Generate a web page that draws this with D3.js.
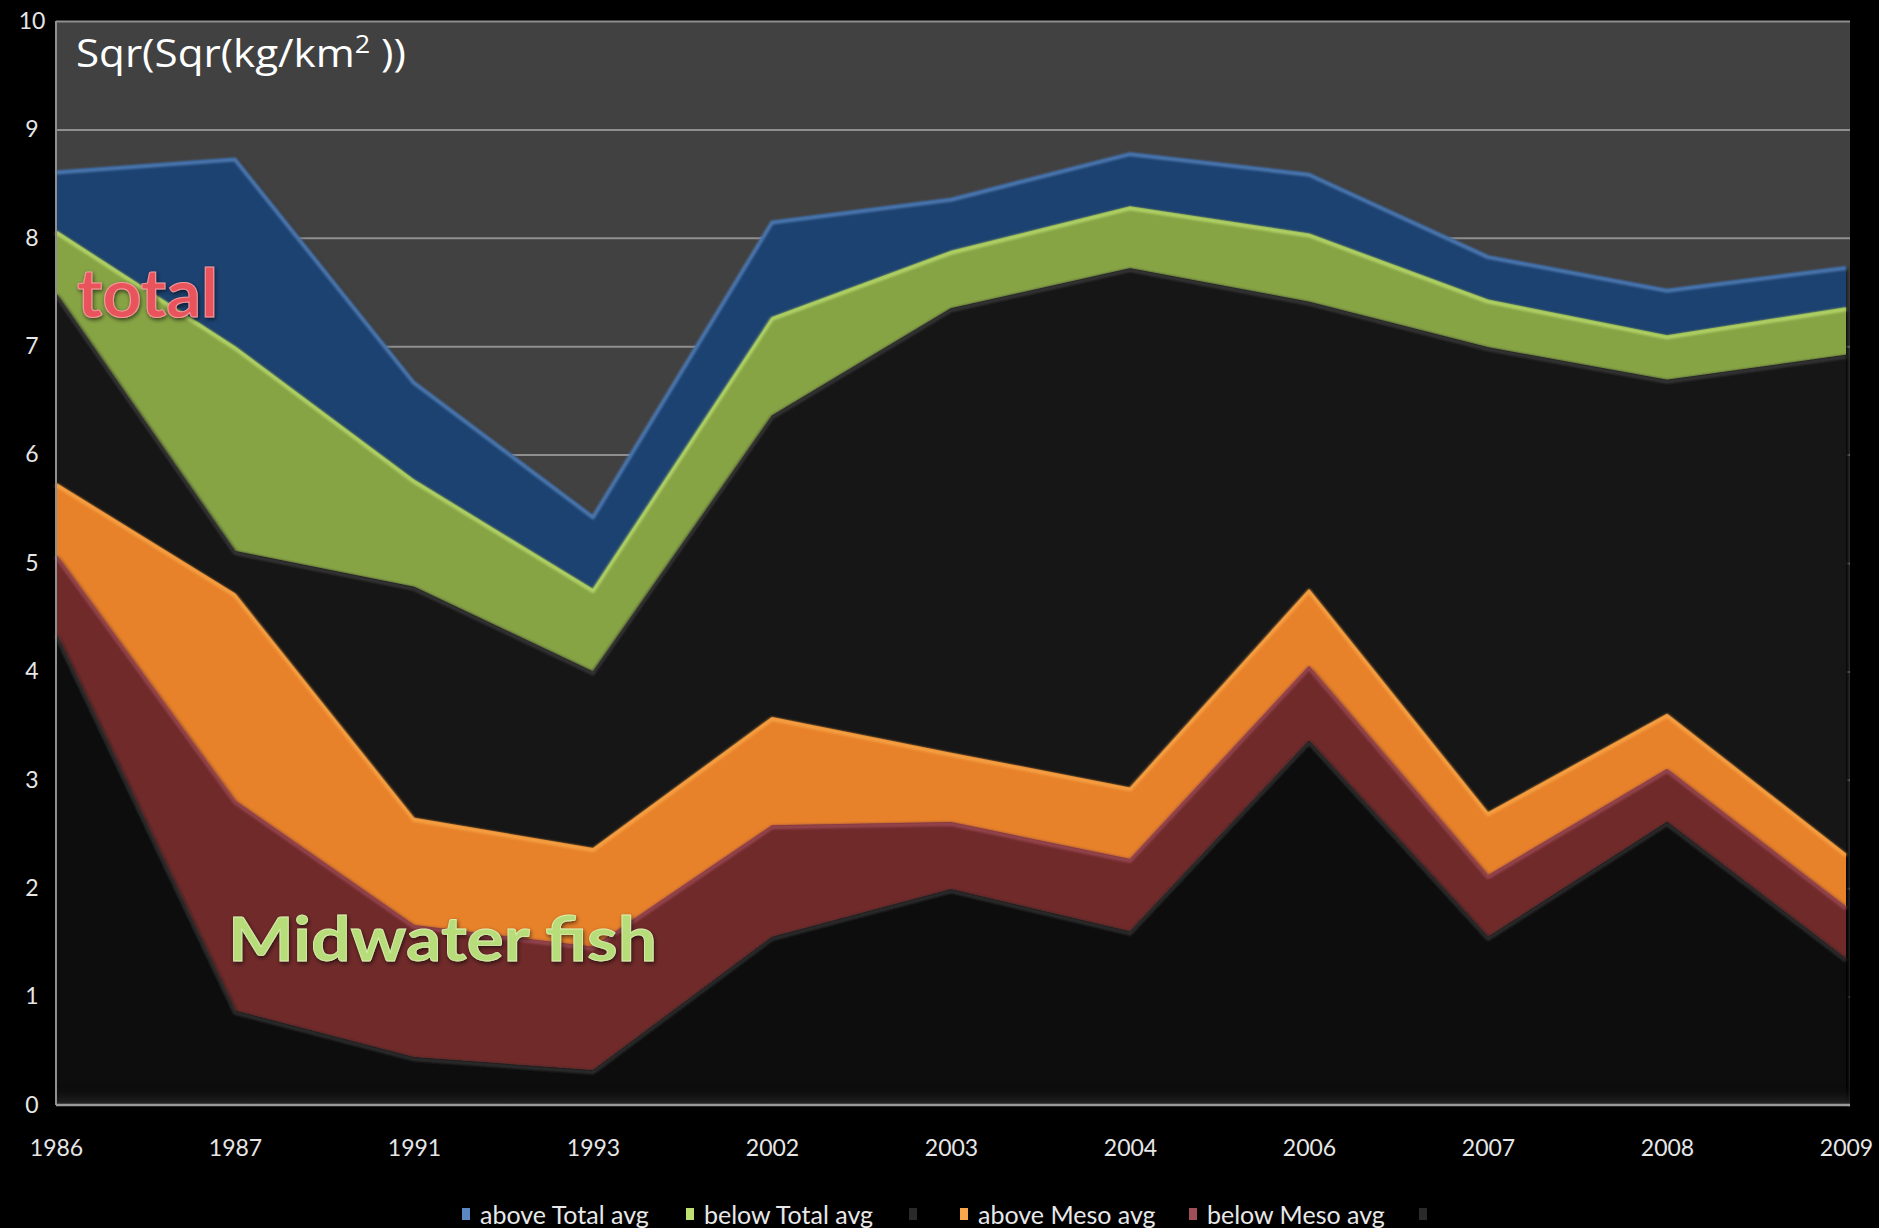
<!DOCTYPE html>
<html lang="en">
  <head>
    <meta charset="utf-8">
    <title>Sqr(Sqr(kg/km2)) - total and midwater fish</title>
    <script src="https://cdnjs.cloudflare.com/ajax/libs/d3/7.8.5/d3.min.js"></script>
    <style>
      html, body {
        margin: 0px;
        padding: 0px;
        background: #000;
      }
      svg {
        display: block;
        font-family: Lato, "Open Sans", sans-serif;
      }
      .tick text {
        fill: #e6e6e6;
        font-family: Lato, "Open Sans", sans-serif;
        font-size: 23px;
      }
      .grid line {
        stroke: #8f8f8f;
        stroke-width: 2;
      }
      .legend text {
        fill: #e8e8e8;
        font-size: 25px;
      }
    </style>
  </head>
  <body>
    <div id="chart"></div>
    <script>
      // years on the x axis (evenly spaced categories)
      var years = ["1986", "1987", "1991", "1993", "2002", "2003", "2004", "2006", "2007", "2008", "2009"];
      var yTicks = [0, 1, 2, 3, 4, 5, 6, 7, 8, 9, 10];

      // each series is drawn as its own area from 0, later ones in front
      var aboveTotalAvg = [8.62, 8.74, 6.68, 5.44, 8.16, 8.37, 8.79, 8.60, 7.84, 7.53, 7.74];
      var belowTotalAvg = [8.07, 7.00, 5.77, 4.76, 7.27, 7.88, 8.29, 8.04, 7.43, 7.10, 7.36];
      var totalBase     = [7.49, 5.11, 4.78, 4.00, 6.36, 7.35, 7.72, 7.41, 6.99, 6.69, 6.92];
      var aboveMesoAvg  = [5.74, 4.72, 2.65, 2.37, 3.58, 3.25, 2.93, 4.76, 2.70, 3.61, 2.32];
      var belowMesoAvg  = [5.08, 2.81, 1.66, 1.46, 2.58, 2.61, 2.27, 4.05, 2.12, 3.10, 1.83];
      var mesoBase      = [4.35, 0.87, 0.44, 0.32, 1.55, 1.99, 1.60, 3.36, 1.55, 2.61, 1.35];

      var seriesNames = ["above Total avg", "below Total avg", "", "above Meso avg", "below Meso avg", ""];
      var seriesValues = [aboveTotalAvg, belowTotalAvg, totalBase, aboveMesoAvg, belowMesoAvg, mesoBase];
      var seriesFill = ["#1f4371", "#87a444", "#121212", "#e8822a", "#702a2b", "#080808"];
      var seriesEdge = ["#5b88c2", "#bde070", "#3c3c3c", "#f8a84a", "#a04e58", "#343434"];

      var W = 1879, H = 1228;
      var plotL = 56, plotR = 1850, plotT = 21, plotB = 1105;

      var svg = d3.select("#chart").append("svg")
        .attr("width", W)
        .attr("height", H);

      var defs = svg.append("defs");
      var shadow = defs.append("filter").attr("id", "shadow")
        .attr("x", "-5%").attr("y", "-5%").attr("width", "110%").attr("height", "115%");
      shadow.append("feDropShadow")
        .attr("dx", 1).attr("dy", 3).attr("stdDeviation", 2.5)
        .attr("flood-color", "#000").attr("flood-opacity", 0.85);

      var soft = defs.append("filter").attr("id", "soft");
      soft.append("feGaussianBlur").attr("stdDeviation", 0.9);

      var glow = defs.append("filter").attr("id", "glow")
        .attr("x", "-10%").attr("y", "-20%").attr("width", "120%").attr("height", "140%");
      glow.append("feDropShadow")
        .attr("dx", 1).attr("dy", 2).attr("stdDeviation", 2)
        .attr("flood-color", "#000").attr("flood-opacity", 0.6);

      var floorGrad = defs.append("linearGradient").attr("id", "floor")
        .attr("x1", 0).attr("y1", 0).attr("x2", 0).attr("y2", 1);
      floorGrad.append("stop").attr("offset", "0%").attr("stop-color", "#000").attr("stop-opacity", 0);
      floorGrad.append("stop").attr("offset", "100%").attr("stop-color", "#2a2a2a").attr("stop-opacity", 0.9);

      var x = d3.scalePoint().domain(years).range([plotL, plotR - 4]);
      var y = d3.scaleLinear().domain([0, 10]).range([plotB, plotT]);

      // plot background
      svg.append("rect")
        .attr("x", plotL).attr("y", plotT)
        .attr("width", plotR - plotL).attr("height", plotB - plotT)
        .attr("fill", "#414141");

      // gridlines
      svg.append("g")
        .attr("class", "grid")
        .attr("transform", "translate(" + plotL + ",0)")
        .call(d3.axisLeft(y).tickValues(yTicks).tickSize(-(plotR - plotL)).tickFormat(""))
        .call(function(g) { g.select(".domain").remove(); });

      var area = d3.area()
        .x(function(d, i) { return x(years[i]); })
        .y0(y(0))
        .y1(function(d) { return y(d); });

      var line = d3.line()
        .x(function(d, i) { return x(years[i]); })
        .y(function(d) { return y(d); });

      var layers = svg.append("g").attr("class", "layers");
      seriesValues.forEach(function(vals, k) {
        var g = layers.append("g");
        g.append("path")
          .attr("d", area(vals))
          .attr("fill", seriesFill[k])
          .attr("filter", "url(#shadow)");
        g.append("path")
          .attr("d", line(vals))
          .attr("fill", "none")
          .attr("stroke", seriesEdge[k])
          .attr("stroke-width", 4)
          .attr("stroke-opacity", 0.75)
          .attr("stroke-linejoin", "round")
          .attr("filter", "url(#soft)")
          .attr("transform", "translate(0,2)");
      });

      // floor shade at the bottom of the plot
      svg.append("rect")
        .attr("x", plotL).attr("y", plotB - 22)
        .attr("width", plotR - plotL).attr("height", 22)
        .attr("fill", "url(#floor)");

      // axis lines
      svg.append("line")
        .attr("x1", plotL).attr("x2", plotL).attr("y1", plotT).attr("y2", plotB)
        .attr("stroke", "#8f8f8f").attr("stroke-width", 2);
      svg.append("line")
        .attr("x1", plotL).attr("x2", plotR).attr("y1", plotB).attr("y2", plotB)
        .attr("stroke", "#9a9a9a").attr("stroke-width", 2.5);

      // y axis labels
      svg.append("g")
        .attr("transform", "translate(" + (plotL - 10) + ",0)")
        .call(d3.axisLeft(y).tickValues(yTicks).tickSize(0).tickPadding(4))
        .call(function(g) { g.select(".domain").remove(); })
        .selectAll("text")
        .attr("text-anchor", "middle")
        .attr("x", -14);

      // x axis labels
      svg.append("g")
        .attr("transform", "translate(0," + plotB + ")")
        .call(d3.axisBottom(x).tickSize(0).tickPadding(35))
        .call(function(g) { g.select(".domain").remove(); });

      // titles inside the plot
      var unit = svg.append("text")
        .attr("x", 76).attr("y", 67)
        .attr("fill", "#fff")
        .attr("textLength", 330)
        .attr("lengthAdjust", "spacingAndGlyphs")
        .style("font-family", "'Open Sans', Lato, sans-serif")
        .style("font-size", "39px");
      unit.append("tspan").text("Sqr(Sqr(kg/km");
      unit.append("tspan").attr("dy", -14).style("font-size", "25px").text("2");
      unit.append("tspan").attr("dy", 14).text(" ))");

      svg.append("text")
        .attr("x", 77).attr("y", 317)
        .attr("fill", "#e9525c")
        .attr("stroke", "#f59aa0").attr("stroke-width", 1)
        .attr("filter", "url(#glow)")
        .attr("textLength", 141)
        .attr("lengthAdjust", "spacingAndGlyphs")
        .style("font-size", "66px").style("font-weight", "bold")
        .text("total");

      svg.append("text")
        .attr("x", 228).attr("y", 961)
        .attr("fill", "#b6dd7a")
        .attr("stroke", "#d9f0b0").attr("stroke-width", 0.8)
        .attr("filter", "url(#glow)")
        .attr("textLength", 429)
        .attr("lengthAdjust", "spacingAndGlyphs")
        .style("font-size", "62px").style("font-weight", "bold")
        .text("Midwater fish");

      // legend
      var legendX = [462, 686, 909, 960, 1189, 1419];
      var legend = svg.append("g").attr("class", "legend");
      seriesNames.forEach(function(name, k) {
        var item = legend.append("g").attr("transform", "translate(" + legendX[k] + ",1215)");
        item.append("rect")
          .attr("x", 0).attr("y", -7)
          .attr("width", 8).attr("height", 12)
          .attr("fill", k == 2 || k == 5 ? "#2a2a2a" : seriesEdge[k]);
        if (name) {
          item.append("text")
            .attr("x", 18).attr("y", 0)
            .attr("dy", "0.36em")
            .text(name);
        }
      });
    </script>
  </body>
</html>
